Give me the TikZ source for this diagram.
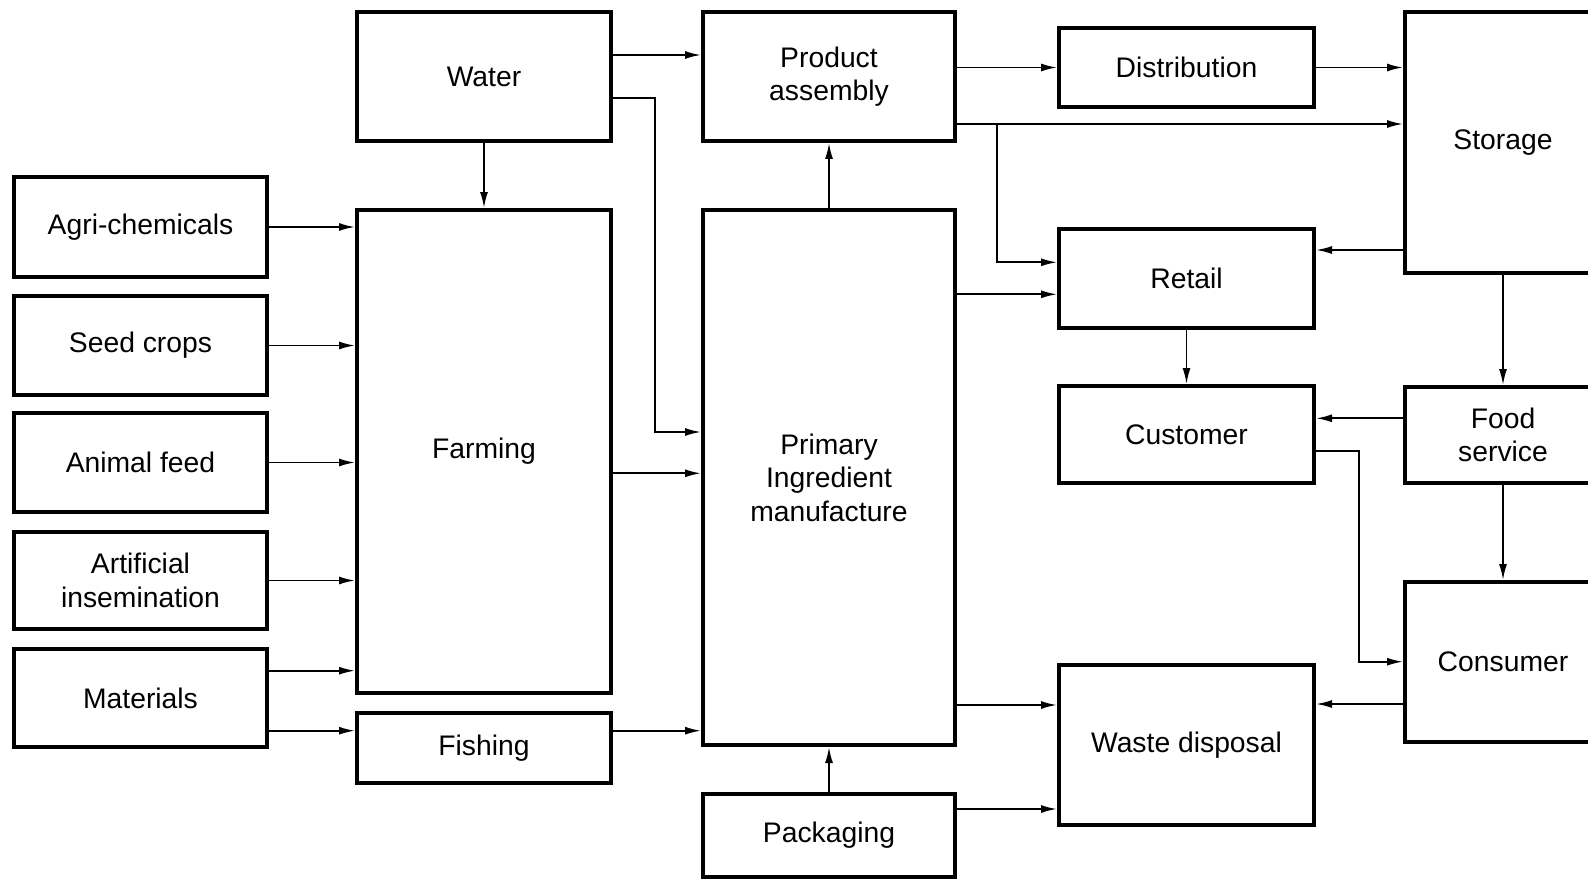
\documentclass[tikz,border=0pt]{standalone}
\usepackage{fontspec}
\setmainfont{Liberation Sans}
\usetikzlibrary{arrows.meta,calc}

\begin{document}
\begin{tikzpicture}[x=1pt,y=-1pt,
  box/.style={draw, line width=4pt, rectangle, inner sep=0pt, align=center,
              font=\fontsize{28.3pt}{33.4pt}\selectfont},
  arr/.style={line width=1.8pt, -{Latex[length=16pt,width=8pt]}}
]
\clip (0,0) rectangle (1588,880);

% ---- input column ----
\node[box, minimum width=253pt, minimum height=99pt] (agri)  at (140.5,227)   {Agri-chemicals};
\node[box, minimum width=253pt, minimum height=99pt] (seed)  at (140.5,345.5) {Seed crops};
\node[box, minimum width=253pt, minimum height=99pt] (feed)  at (140.5,462.5) {Animal feed};
\node[box, minimum width=253pt, minimum height=97pt] (insem) at (140.5,580.5) {Artificial\\insemination};
\node[box, minimum width=253pt, minimum height=98pt] (mat)   at (140.5,698)   {Materials};

% ---- primary production ----
\node[box, minimum width=254pt, minimum height=129pt] (water)   at (484,76.5)  {Water};
\node[box, minimum width=254pt, minimum height=483pt] (farming) at (484,451.5) {Farming};
\node[box, minimum width=254pt, minimum height=70pt]  (fishing) at (484,748)   {Fishing};

% ---- manufacture ----
\node[box, minimum width=252pt, minimum height=129pt] (pa)      at (829,76.5)  {Product\\assembly};
\node[box, minimum width=252pt, minimum height=535pt] (primary) at (829,477.5) {Primary\\Ingredient\\manufacture};
\node[box, minimum width=252pt, minimum height=83pt]  (pack)    at (829,835.5) {Packaging};

% ---- distribution and sale ----
\node[box, minimum width=255pt, minimum height=79pt]  (dist)     at (1186.5,67.5)  {Distribution};
\node[box, minimum width=255pt, minimum height=99pt]  (retail)   at (1186.5,278.5) {Retail};
\node[box, minimum width=255pt, minimum height=97pt]  (customer) at (1186.5,434.5) {Customer};
\node[box, minimum width=255pt, minimum height=160pt] (waste)    at (1186.5,745)   {Waste disposal};

% ---- end use ----
\node[box, minimum width=196pt, minimum height=261pt] (storage)  at (1503,142.5) {Storage};
\node[box, minimum width=196pt, minimum height=96pt]  (food)     at (1503,435)   {Food\\service};
\node[box, minimum width=196pt, minimum height=160pt] (consumer) at (1503,662)   {Consumer};

% ---- connector levels ----
\coordinate (yMatFarm)  at (0,670.7);
\coordinate (yFish)     at (0,730.7);
\coordinate (yWaterPA)  at (0,55);
\coordinate (yWaterPr)  at (0,98);
\coordinate (yWaterPrB) at (0,432);
\coordinate (yFarmPr)   at (0,473.3);
\coordinate (yPrRet)    at (0,294.3);
\coordinate (yPrWaste)  at (0,705);
\coordinate (yPackW)    at (0,809);
\coordinate (yPAStore)  at (0,124);
\coordinate (yBranch)   at (0,262.3);
\coordinate (yStRet)    at (0,250);
\coordinate (yFoodCu)   at (0,418.3);
\coordinate (yCuCo)     at (0,450.7);
\coordinate (yCuCoB)    at (0,661.7);
\coordinate (yCoWaste)  at (0,704);
\coordinate (xWaterRun) at (655,0);
\coordinate (xBranch)   at (997,0);
\coordinate (xCuRun)    at (1359,0);

% inputs into farming and fishing
\draw[arr] (agri.east)  -- (agri.east -| farming.west);
\draw[arr] (seed.east)  -- (seed.east -| farming.west);
\draw[arr] (feed.east)  -- (feed.east -| farming.west);
\draw[arr] (insem.east) -- (insem.east -| farming.west);
\draw[arr] (mat.east |- yMatFarm) -- (farming.west |- yMatFarm);
\draw[arr] (mat.east |- yFish) -- (fishing.west |- yFish);

% water
\draw[arr] (water.south) -- (farming.north);
\draw[arr] (water.east |- yWaterPA) -- (pa.west |- yWaterPA);
\draw[arr] (water.east |- yWaterPr) -- (xWaterRun |- yWaterPr) -- (xWaterRun |- yWaterPrB) -- (primary.west |- yWaterPrB);

% into primary manufacture
\draw[arr] (farming.east |- yFarmPr) -- (primary.west |- yFarmPr);
\draw[arr] (fishing.east |- yFish) -- (primary.west |- yFish);
\draw[arr] (pack.north) -- (primary.south);
\draw[arr] (primary.north) -- (pa.south);

% out of manufacture
\draw[arr] (primary.east |- yPrRet) -- (retail.west |- yPrRet);
\draw[arr] (primary.east |- yPrWaste) -- (waste.west |- yPrWaste);
\draw[arr] (pack.east |- yPackW) -- (waste.west |- yPackW);
\draw[arr] (pa.east |- dist.west) -- (dist.west);
\draw[arr] (dist.east) -- (dist.east -| storage.west);
\draw[arr] (pa.east |- yPAStore) -- (storage.west |- yPAStore);
\draw[arr] (xBranch |- yPAStore) -- (xBranch |- yBranch) -- (retail.west |- yBranch);

% storage, retail and consumers
\draw[arr] (storage.west |- yStRet) -- (retail.east |- yStRet);
\draw[arr] (retail.south) -- (customer.north);
\draw[arr] (storage.south) -- (food.north);
\draw[arr] (food.west |- yFoodCu) -- (customer.east |- yFoodCu);
\draw[arr] (customer.east |- yCuCo) -- (xCuRun |- yCuCo) -- (xCuRun |- yCuCoB) -- (consumer.west |- yCuCoB);
\draw[arr] (food.south) -- (consumer.north);
\draw[arr] (consumer.west |- yCoWaste) -- (waste.east |- yCoWaste);
\end{tikzpicture}
\end{document}
